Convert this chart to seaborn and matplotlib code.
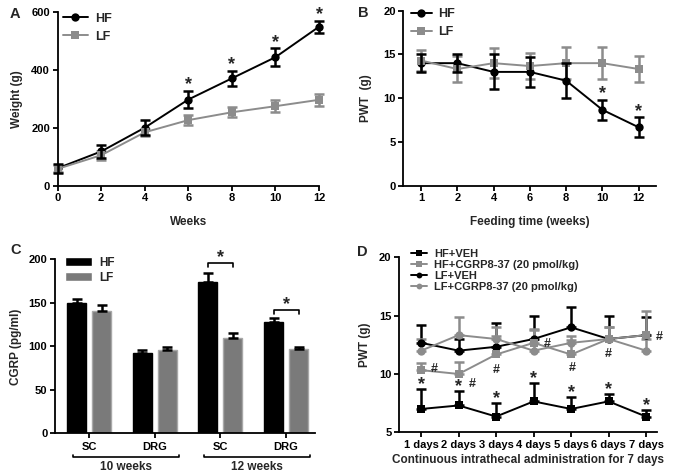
import numpy as np
import pandas as pd
import matplotlib
matplotlib.use("Agg")
import matplotlib.pyplot as plt
import seaborn as sns

# ---- data ----
# Panel A: body weight
weeks_a = [0, 2, 4, 6, 8, 10, 12]
hf_weight = [60, 118, 200, 297, 370, 443, 548]
hf_weight_err = [15, 22, 25, 30, 27, 30, 20]
lf_weight = [58, 105, 184, 226, 253, 274, 296]
lf_weight_err = [12, 15, 12, 18, 18, 20, 20]
stars_a = [6, 8, 10, 12]

# Panel B: PWT during feeding
weeks_b = ['1', '2', '4', '6', '8', '10', '12']
hf_pwt = [14.0, 14.0, 13.0, 13.0, 12.0, 8.67, 6.67]
hf_pwt_err = [1.0, 1.0, 2.0, 1.7, 2.0, 1.15, 1.15]
lf_pwt = [14.3, 13.33, 14.0, 13.67, 14.0, 14.0, 13.33]
lf_pwt_err = [1.2, 1.5, 1.7, 1.5, 1.8, 1.8, 1.5]
stars_b = ['10', '12']

# Panel C: CGRP
tissues = ['SC', 'DRG', 'SC', 'DRG']
tissue_keys = ['SC_10', 'DRG_10', 'SC_12', 'DRG_12']
hf_cgrp = [150, 92, 174, 128]
hf_cgrp_err = [4, 4, 10, 4]
lf_cgrp = [141, 96, 110, 97]
lf_cgrp_err = [6, 3, 5, 2.5]
period_labels = ['10 weeks', '12 weeks']

# Panel D: PWT during intrathecal administration
days = ['1 days', '2 days', '3 days', '4 days', '5 days', '6 days', '7 days']
hf_veh = [7.0, 7.3, 6.35, 7.65, 7.0, 7.65, 6.35]
hf_veh_err = [1.7, 1.2, 1.15, 1.55, 1.0, 0.6, 0.55]
hf_cgrp837 = [10.33, 10.0, 11.67, 12.67, 11.67, 13.0, 13.33]
hf_cgrp837_err = [0.6, 1.0, 1.6, 1.15, 1.2, 1.0, 2.1]
lf_veh = [12.67, 12.0, 12.33, 13.0, 14.0, 13.0, 13.33]
lf_veh_err = [1.5, 1.0, 2.07, 2.0, 1.75, 2.0, 1.55]
lf_cgrp837 = [12.0, 13.33, 13.0, 12.0, 12.67, 13.0, 12.0]
lf_cgrp837_err = [1.0, 1.52, 1.0, 1.8, 0.6, 1.0, 1.0]

GRAY = '#8c8c8c'

sns.set_theme(style='ticks')
plt.rcParams['font.family'] = ['Liberation Sans', 'DejaVu Sans']
plt.rcParams['font.weight'] = 'bold'
plt.rcParams['axes.labelweight'] = 'bold'
plt.rcParams['axes.linewidth'] = 1.3
plt.rcParams['xtick.major.width'] = 1.3
plt.rcParams['ytick.major.width'] = 1.3
plt.rcParams['xtick.major.size'] = 3.5
plt.rcParams['ytick.major.size'] = 3.5
plt.rcParams['xtick.color'] = 'black'
plt.rcParams['ytick.color'] = 'black'
plt.rcParams['axes.edgecolor'] = 'black'
plt.rcParams['xtick.labelsize'] = 8
plt.rcParams['ytick.labelsize'] = 8
plt.rcParams['axes.labelsize'] = 8.5

fig = plt.figure(figsize=(6.77, 4.76), dpi=100)
ax_a = fig.add_axes([0.0852, 0.610, 0.386, 0.3655])
ax_b = fig.add_axes([0.5957, 0.610, 0.3728, 0.3676])
ax_c = fig.add_axes([0.0812, 0.0897, 0.384, 0.3655])
ax_d = fig.add_axes([0.5894, 0.0918, 0.381, 0.3676])


def style_axes(ax):
    sns.despine(ax=ax)
    ax.tick_params(direction='out', pad=2)


def add_star(ax, x, y, dy=1, text='*'):
    ax.annotate(text, (x, y), xytext=(0, dy), textcoords='offset points',
                ha='center', va='baseline', fontsize=13, fontweight='bold',
                annotation_clip=False)


# ---------- Panel A ----------
df_a = pd.DataFrame({
    'week': weeks_a * 2,
    'weight': hf_weight + lf_weight,
    'group': ['HF'] * len(weeks_a) + ['LF'] * len(weeks_a),
})
sns.lineplot(data=df_a, x='week', y='weight', hue='group', style='group',
             palette={'HF': 'black', 'LF': GRAY}, markers={'HF': 'o', 'LF': 's'},
             dashes=False, markersize=6, linewidth=1.4, markeredgewidth=0,
             ax=ax_a, clip_on=False, zorder=3)
ax_a.errorbar(weeks_a, lf_weight, yerr=lf_weight_err, fmt='none', ecolor=GRAY,
              elinewidth=1.8, capsize=3.5, capthick=1.8, clip_on=False, zorder=2)
ax_a.errorbar(weeks_a, hf_weight, yerr=hf_weight_err, fmt='none', ecolor='black',
              elinewidth=1.8, capsize=3.5, capthick=1.8, clip_on=False, zorder=4)
for w in stars_a:
    i = weeks_a.index(w)
    add_star(ax_a, w, hf_weight[i] + hf_weight_err[i], dy=1)
ax_a.set_xlim(0, 12)
ax_a.set_ylim(0, 600)
ax_a.set_xticks(weeks_a)
ax_a.set_yticks([0, 200, 400, 600])
ax_a.set_xlabel('Weeks', labelpad=9)
ax_a.set_ylabel('Weight (g)', labelpad=6)
h, l = ax_a.get_legend_handles_labels()
ax_a.legend(h, l, loc='upper left', bbox_to_anchor=(0.02, 0.995), frameon=False,
            fontsize=9, handlelength=2.0, handletextpad=0.6, labelspacing=0.5,
            borderaxespad=0, borderpad=0)
style_axes(ax_a)

# ---------- Panel B ----------
xb = list(range(len(weeks_b)))
df_b = pd.DataFrame({
    'pos': xb * 2,
    'pwt': hf_pwt + lf_pwt,
    'group': ['HF'] * len(xb) + ['LF'] * len(xb),
})
sns.lineplot(data=df_b, x='pos', y='pwt', hue='group', style='group',
             palette={'HF': 'black', 'LF': GRAY}, markers={'HF': 'o', 'LF': 's'},
             dashes=False, markersize=6, linewidth=1.4, markeredgewidth=0,
             hue_order=['HF', 'LF'], ax=ax_b, zorder=3)
ax_b.errorbar(xb, lf_pwt, yerr=lf_pwt_err, fmt='none', ecolor=GRAY,
              elinewidth=1.8, capsize=3.5, capthick=1.8, zorder=2)
ax_b.errorbar(xb, hf_pwt, yerr=hf_pwt_err, fmt='none', ecolor='black',
              elinewidth=1.8, capsize=3.5, capthick=1.8, zorder=4)
for w in stars_b:
    i = weeks_b.index(w)
    add_star(ax_b, i, hf_pwt[i] + hf_pwt_err[i], dy=1)
ax_b.set_xlim(-0.49, 6.47)
ax_b.set_ylim(0, 20)
ax_b.set_xticks(xb)
ax_b.set_xticklabels(weeks_b)
ax_b.set_yticks([0, 5, 10, 15, 20])
ax_b.set_xlabel('Feeding time (weeks)', labelpad=9)
ax_b.set_ylabel('PWT  (g)', labelpad=8)
h, l = ax_b.get_legend_handles_labels()
ax_b.legend(h, l, loc='upper left', bbox_to_anchor=(0.03, 1.015), frameon=False,
            fontsize=9, handlelength=1.7, handletextpad=0.5, labelspacing=0.5,
            borderaxespad=0, borderpad=0)
style_axes(ax_b)

# ---------- Panel C ----------
df_c = pd.DataFrame({
    'tissue': tissue_keys * 2,
    'cgrp': hf_cgrp + lf_cgrp,
    'group': ['HF'] * 4 + ['LF'] * 4,
})
sns.barplot(data=df_c, x='tissue', y='cgrp', hue='group', order=tissue_keys,
            hue_order=['HF', 'LF'], palette={'HF': 'black', 'LF': '#7a7a7a'},
            width=0.76, gap=0.24, errorbar=None, saturation=1, ax=ax_c)
errs = {'HF': hf_cgrp_err, 'LF': lf_cgrp_err}
edges = {'HF': 'black', 'LF': '#a8a8a8'}
bar_x = {}
for cont, grp in zip(ax_c.containers, ['HF', 'LF']):
    xs, ys = [], []
    for bar in cont:
        bar.set_edgecolor(edges[grp])
        bar.set_linewidth(1.0)
        xs.append(bar.get_x() + bar.get_width() / 2)
        ys.append(bar.get_height())
    bar_x[grp] = xs
    ax_c.errorbar(xs, ys, yerr=[np.zeros(len(xs)), errs[grp]], fmt='none',
                  ecolor='black', elinewidth=1.8, capsize=3.5, capthick=1.8, zorder=3)
# significance brackets for the 12-week groups
for i, ytop in [(2, 195.5), (3, 141.5)]:
    x0, x1 = bar_x['HF'][i], bar_x['LF'][i]
    ax_c.plot([x0, x0, x1, x1], [ytop - 4, ytop, ytop, ytop - 4], color='black',
              lw=1.2, clip_on=False)
    add_star(ax_c, (x0 + x1) / 2, ytop, dy=1)
ax_c.set_xlim(-0.52, 3.44)
ax_c.set_ylim(0, 200)
ax_c.set_yticks([0, 50, 100, 150, 200])
ax_c.set_xticks(range(4))
ax_c.set_xticklabels(tissues)
ax_c.tick_params(axis='x', pad=3)
ax_c.set_xlabel('')
ax_c.set_ylabel('CGRP (pg/ml)', labelpad=5)
bt = ax_c.get_xaxis_transform()
for k, lab in enumerate(period_labels):
    g0 = 2 * k
    xl, xr = g0 - 0.25, g0 + 1.37
    ax_c.plot([xl, xl, xr, xr], [-0.122, -0.138, -0.138, -0.122], color='black',
              lw=1.2, transform=bt, clip_on=False)
    ax_c.text((xl + xr) / 2, -0.16, lab, transform=bt, ha='center', va='top',
              fontsize=8.5, fontweight='bold')
h, l = ax_c.get_legend_handles_labels()
ax_c.legend(h, l, loc='upper left', bbox_to_anchor=(0.038, 1.015), frameon=False,
            fontsize=8.5, handlelength=2.3, handleheight=0.7, handletextpad=0.6,
            labelspacing=0.25, borderaxespad=0, borderpad=0)
style_axes(ax_c)
ax_c.tick_params(axis='x', pad=3)

# ---------- Panel D ----------
xd = list(range(len(days)))
series_d = [
    ('HF+VEH', hf_veh, hf_veh_err, 'black', 's'),
    ('LF+VEH', lf_veh, lf_veh_err, 'black', 'o'),
    ('LF+CGRP8-37 (20 pmol/kg)', lf_cgrp837, lf_cgrp837_err, GRAY, 'o'),
    ('HF+CGRP8-37 (20 pmol/kg)', hf_cgrp837, hf_cgrp837_err, GRAY, 's'),
]
legend_order = ['HF+VEH', 'HF+CGRP8-37 (20 pmol/kg)', 'LF+VEH', 'LF+CGRP8-37 (20 pmol/kg)']
df_d = pd.concat([pd.DataFrame({'pos': xd, 'pwt': vals, 'group': name})
                  for name, vals, _, _, _ in series_d], ignore_index=True)
sns.lineplot(data=df_d, x='pos', y='pwt', hue='group', style='group',
             hue_order=[s[0] for s in series_d],
             palette={s[0]: s[3] for s in series_d},
             markers={s[0]: s[4] for s in series_d},
             dashes=False, markersize=6, linewidth=1.4, markeredgewidth=0,
             ax=ax_d, zorder=3)
for name, vals, err, col, _ in series_d:
    ax_d.errorbar(xd, vals, yerr=[np.zeros(len(xd)), err], fmt='none', ecolor=col,
                  elinewidth=1.8, capsize=3.5, capthick=1.8, zorder=2)
for i in xd:
    add_star(ax_d, i, hf_veh[i] + hf_veh_err[i], dy=0)
# '#' marks next to HF+CGRP8-37 points (offsets in points)
hash_offsets = [(7, 1), (7, -7), (0, -11), (7, -1), (1, -10), (0, -11), (7, -1)]
for i, (dx, dy) in enumerate(hash_offsets):
    ax_d.annotate('#', (i, hf_cgrp837[i]), xytext=(dx, dy), textcoords='offset points',
                  ha='left' if dx > 2 else 'center', va='center', fontsize=9,
                  fontweight='bold')
ax_d.set_xlim(-0.59, 6.29)
ax_d.set_ylim(5, 20)
ax_d.set_xticks(xd)
ax_d.set_xticklabels(days)
ax_d.set_yticks([5, 10, 15, 20])
ax_d.set_xlabel('Continuous intrathecal administration for 7 days', labelpad=3)
ax_d.set_ylabel('PWT (g)', labelpad=6)
h, l = ax_d.get_legend_handles_labels()
hd = dict(zip(l, h))
ax_d.legend([hd[n] for n in legend_order], legend_order, loc='upper left',
            bbox_to_anchor=(0.045, 1.05), frameon=False, fontsize=8,
            handlelength=1.5, handletextpad=0.6, labelspacing=0.1,
            borderaxespad=0, borderpad=0, markerscale=0.7)
style_axes(ax_d)

# panel letters
for lab, (px, py) in zip('ABCD', [(10, 14), (358, 13), (10, 250), (357, 252)]):
    fig.text(px / 677, 1 - py / 476, lab, fontsize=10.5, fontweight='bold',
             ha='left', va='center')

fig.savefig('out.png', dpi=100)
